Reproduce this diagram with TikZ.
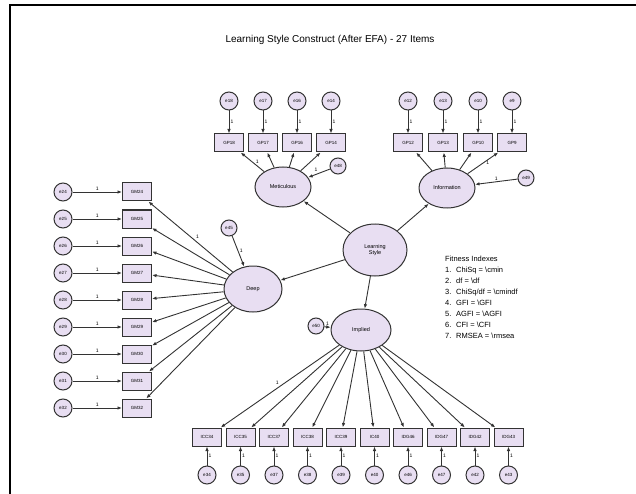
\documentclass[tikz,border=0pt]{standalone}
\usepackage{fontspec}
\setmainfont{Liberation Sans}
\usetikzlibrary{shapes.geometric,arrows.meta}
\definecolor{lav}{HTML}{E8DEF2}
\definecolor{edgec}{HTML}{333333}
\tikzset{
  latent/.style={ellipse, draw=edgec, fill=lav, line width=1pt, inner sep=0pt,
    font=\fontsize{5.5}{6.5}\selectfont, align=center},
  observed/.style={rectangle, draw=edgec, fill=lav, line width=1pt,
    minimum width=29, minimum height=18, inner sep=0pt, font=\fontsize{4.5}{5}\selectfont},
  errc/.style={circle, draw=edgec, fill=lav, line width=1pt, minimum size=18,
    inner sep=0pt, font=\fontsize{4.5}{5}\selectfont},
  resid/.style={errc, minimum size=16},
  link/.style={draw=edgec, line width=0.9pt, -{Latex[length=4.5pt,width=3.5pt]}},
  one/.style={font=\fontsize{5}{6}\selectfont, inner sep=1.2pt},
}
\begin{document}
\begin{tikzpicture}[x=1pt,y=-1pt]
\useasboundingbox (0,0) rectangle (636,494);
% page frame
\draw[line width=1.5pt] (10,494) -- (10,5) -- (636,5);

% title
\node (title) at (330,40) {\fontsize{10}{12}\selectfont Learning Style Construct (After EFA) - 27 Items};

% latent factors
\node[latent, minimum width=64, minimum height=52] (ls) at (375,250) {Learning\\Style};
\node[latent, minimum width=56, minimum height=40] (met) at (283,187) {Meticulous};
\node[latent, minimum width=56, minimum height=40] (inf) at (447,188) {Information};
\node[latent, minimum width=58, minimum height=46] (deep) at (253,289) {Deep};
\node[latent, minimum width=60, minimum height=42] (imp) at (361,330) {Implied};

% second-order paths
\draw[link] (ls) -- (met);
\draw[link] (ls) -- (inf);
\draw[link] (ls) -- (deep);
\draw[link] (ls) -- (imp);

% disturbances of the first-order factors
\node[resid] (rmet) at (338,166) {e48};
\node[resid] (rinf) at (526,178) {e49};
\node[resid] (rdeep) at (229,228) {e45};
\node[resid] (rimp) at (316,326) {e50};
\draw[link] (rmet) -- (met) node[one, midway, above left] {1};
\draw[link] (rinf) -- (inf) node[one, midway, above] {1};
\draw[link] (rdeep) -- (deep) node[one, midway, right] {1};
\draw[link] (rimp) -- (imp) node[one, midway, above] {1};

% Meticulous indicators
\foreach \x/\lab/\e [count=\i] in {229/GP18/e18, 263/GP17/e17, 297/GP16/e16, 331/GP14/e14} {
  \node[observed] (m\i) at (\x,143) {\lab};
  \node[errc] (me\i) at (\x,101) {\e};
  \draw[link] (me\i) -- (m\i) node[one, midway, right] {1};
  \draw[link] (met) -- (m\i);
}
\path (met) -- (m1) node[one, pos=0.5, right=2pt] {1};

% Information indicators
\foreach \x/\lab/\e [count=\i] in {408/GP12/e12, 443/GP13/e13, 478/GP10/e10, 512/GP9/e9} {
  \node[observed] (n\i) at (\x,143) {\lab};
  \node[errc] (ne\i) at (\x,101) {\e};
  \draw[link] (ne\i) -- (n\i) node[one, midway, right] {1};
  \draw[link] (inf) -- (n\i);
}
\path (inf) -- (n4) node[one, pos=0.5, right=2pt] {1};

% Deep indicators
\foreach \lab/\e [count=\i] in {GM24/e24, GM25/e25, GM26/e26, GM27/e27, GM28/e28,
                                GM29/e29, GM30/e30, GM31/e31, GM32/e32} {
  \node[observed] (d\i) at (137,{192+27*(\i-1)}) {\lab};
  \node[errc] (de\i) at (63,{192+27*(\i-1)}) {\e};
  \draw[link] (de\i) -- (d\i) node[one, midway, above] {1};
  \draw[link] (deep) -- (d\i);
}
\path (deep) -- (d1) node[one, pos=0.45, above right] {1};

% Implied indicators
\foreach \lab/\e [count=\i] in {ICC34/e34, ICC35/e35, ICC37/e37, ICC38/e38, ICC39/e39,
                                IC40/e40, IDG46/e46, IDG47/e47, IDG42/e42, IDG43/e43} {
  \node[observed] (i\i) at ({207+33.5*(\i-1)},437) {\lab};
  \node[errc] (ie\i) at ({207+33.5*(\i-1)},475) {\e};
  \draw[link] (ie\i) -- (i\i) node[one, midway, right] {1};
  \draw[link] (imp) -- (i\i);
}
\path (imp) -- (i1) node[one, pos=0.5, above left] {1};

% fit summary
\node[anchor=north west, align=left, font=\fontsize{7.5}{11}\selectfont, inner sep=0pt] (fit) at (445,256) {%
Fitness Indexes\\
\makebox[11pt][l]{1.}ChiSq = \textbackslash cmin\\
\makebox[11pt][l]{2.}df = \textbackslash df\\
\makebox[11pt][l]{3.}ChiSq/df = \textbackslash cmindf\\
\makebox[11pt][l]{4.}GFI = \textbackslash GFI\\
\makebox[11pt][l]{5.}AGFI = \textbackslash AGFI\\
\makebox[11pt][l]{6.}CFI = \textbackslash CFI\\
\makebox[11pt][l]{7.}RMSEA = \textbackslash rmsea};
\end{tikzpicture}
\end{document}
